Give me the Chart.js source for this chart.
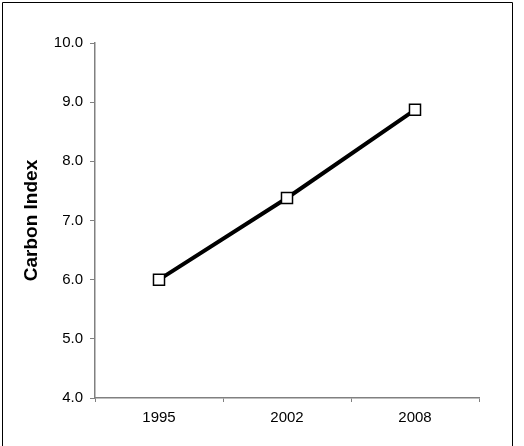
<!DOCTYPE html>
<html>
<head>
<meta charset="utf-8">
<script src="https://cdn.jsdelivr.net/npm/chart.js@4/dist/chart.umd.min.js"></script>
<style>
  html, body { margin: 0; padding: 0; background: #fff; }
  #wrap { width: 524px; height: 446px; }
</style>
</head>
<body>
<div id="wrap"><canvas id="c" width="524" height="446"></canvas></div>
<script>
const categories = ['1995', '2002', '2008'];
const carbonIndex = [6.0, 7.38, 8.87];
const yTicks = [4, 5, 6, 7, 8, 9, 10];
const yTitle = 'Carbon Index';

const frame = {
  id: 'frame',
  afterDraw(chart) {
    const ctx = chart.ctx;
    ctx.save();
    ctx.strokeStyle = '#000';
    ctx.lineWidth = 1;
    ctx.beginPath();
    ctx.moveTo(2.5, 450);
    ctx.lineTo(2.5, 2.5);
    ctx.lineTo(512.5, 2.5);
    ctx.lineTo(512.5, 450);
    ctx.stroke();
    ctx.restore();
  }
};

const axisGray = '#808080';
const font = { family: "'Liberation Sans', Arial, sans-serif", size: 15 };

new Chart(document.getElementById('c'), {
  type: 'line',
  data: {
    labels: categories,
    datasets: [{
      data: carbonIndex,
      borderColor: '#000',
      borderWidth: 4,
      pointStyle: 'rect',
      pointRadius: 7.8,
      pointHoverRadius: 7.8,
      pointBackgroundColor: '#fff',
      pointBorderColor: '#000',
      pointBorderWidth: 1.5,
      tension: 0,
      fill: false
    }]
  },
  options: {
    responsive: false,
    animation: false,
    events: [],
    layout: { padding: { left: 0, right: 45, top: 43, bottom: 0 } },
    plugins: { legend: { display: false }, tooltip: { enabled: false } },
    scales: {
      x: {
        type: 'category',
        offset: true,
        grid: { offset: true, drawOnChartArea: false, drawTicks: true, tickLength: 4, color: axisGray },
        border: { display: true, color: axisGray, width: 1.5 },
        ticks: { color: '#000', font: font, padding: 7, maxRotation: 0 },
        afterFit(scale) { scale.height = 48; }
      },
      y: {
        min: 4,
        max: 10,
        afterBuildTicks(scale) { scale.ticks = yTicks.map(v => ({ value: v })); },
        grid: { drawOnChartArea: false, drawTicks: true, tickLength: 5, color: axisGray },
        border: { display: true, color: axisGray, width: 1.5 },
        ticks: { color: '#000', font: font, padding: 7, callback: v => Number(v).toFixed(1) },
        title: {
          display: true,
          text: yTitle,
          color: '#000',
          font: { family: "'Liberation Sans', Arial, sans-serif", size: 19, weight: 'bold' },
          padding: { top: 20, bottom: 0 }
        },
        afterFit(scale) { scale.width = 95; }
      }
    }
  },
  plugins: [frame]
});
</script>
</body>
</html>
